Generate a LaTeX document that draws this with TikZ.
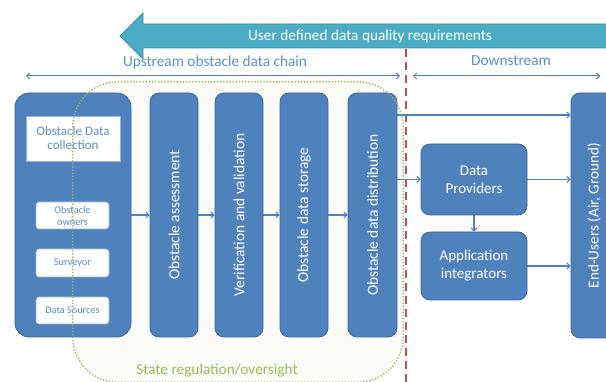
\documentclass[tikz,border=0pt]{standalone}
\usepackage{fontspec}
\setmainfont{Carlito}
\usetikzlibrary{arrows.meta}
\definecolor{boxblue}{HTML}{4F81BD}
\definecolor{boxedge}{HTML}{3A64A0}
\definecolor{teal}{HTML}{4BACC6}
\definecolor{tealedge}{HTML}{3C8FA8}
\definecolor{okgreen}{HTML}{9BBB59}
\definecolor{okred}{HTML}{C0504D}
\definecolor{lbl}{HTML}{5B8FCC}
\tikzset{
  box/.style={draw=boxedge, fill=boxblue, line width=0.8pt, rounded corners=9pt, text=white, align=center, inner sep=2pt},
  whitebox/.style={draw=boxblue!60, fill=white, line width=0.6pt, rounded corners=3pt, text=lbl, align=center, inner sep=1pt},
  arr/.style={draw=boxblue, line width=1.1pt, -{Straight Barb[length=3pt,width=6pt]}},
  dbl/.style={draw=boxblue, line width=1pt, {Straight Barb[length=3pt,width=6pt]}-{Straight Barb[length=3pt,width=6pt]}},
  big/.style={font=\fontsize{15.3}{17}\selectfont},
  vert/.style={font=\fontsize{15.4}{17}\selectfont},
}
\begin{document}
\begin{tikzpicture}[x=1pt,y=-1pt]
\clip (0,0) rectangle (606,382);
\fill[white] (0,0) rectangle (606,382);
% state regulation region (background fill)
\node[fill=okgreen!4, rounded corners=45pt, minimum width=330pt, minimum height=300pt, inner sep=0pt] (region) at (238,232) {};
% big arrow
\draw[fill=teal, draw=tealedge, line width=0.8pt] (120,36) -- (143,13) -- (143,24) -- (610,24) -- (610,48) -- (143,48) -- (143,59) -- cycle;
\node[text=white, big] (req) at (370,36) {User defined data quality requirements};
% labels
\node[text=lbl, big] (up) at (215,62) {Upstream obstacle data chain};
\node[text=lbl, big] (down) at (511,61) {Downstream};
\coordinate (ua) at (26,76);
\coordinate (ub) at (400,76);
\coordinate (da) at (413,76);
\coordinate (db) at (600,76);
\draw[dbl] (ua) -- (ub);
\draw[dbl] (da) -- (db);
% red dashed separator
\coordinate (ra) at (406,49);
\coordinate (rb) at (406,384);
\draw[okred, line width=2.4pt, dash pattern=on 8pt off 5pt] (ra) -- (rb);
% collection box
\node[box, rounded corners=14pt, minimum width=116pt, minimum height=244pt] (coll) at (73,215) {};
\node[whitebox, rounded corners=0pt, minimum width=94pt, minimum height=45pt, font=\fontsize{13}{14}\selectfont] (collt) at (73,138.5) {Obstacle Data\\collection};
\node[whitebox, minimum width=73pt, minimum height=27pt, font=\fontsize{10.3}{12}\selectfont] (own) at (72.5,215.5) {Obstacle\\owners};
\node[whitebox, minimum width=73pt, minimum height=28pt, font=\fontsize{10.3}{12}\selectfont] (surv) at (72.5,263) {Surveyor};
\node[whitebox, minimum width=73pt, minimum height=27pt, font=\fontsize{10.3}{12}\selectfont] (src) at (72.5,310.5) {Data Sources};
% vertical process boxes
\node[box, rotate=90, minimum width=244pt, minimum height=48pt, vert] (assess) at (174,215) {Obstacle assessment};
\node[box, rotate=90, minimum width=244pt, minimum height=48pt, vert] (verif) at (239,215) {Verification and validation};
\node[box, rotate=90, minimum width=244pt, minimum height=48pt, vert] (store) at (304,215) {Obstacle data storage};
\node[box, rotate=90, minimum width=244pt, minimum height=49pt, vert] (dist) at (372.5,215) {Obstacle data distribution};
% downstream boxes
\node[box, minimum width=106pt, minimum height=71pt, font=\fontsize{15}{18}\selectfont] (dp) at (474,179.5) {Data\\Providers};
\node[box, minimum width=106pt, minimum height=68pt, font=\fontsize{15}{18}\selectfont] (app) at (474,266) {Application\\integrators};
\node[box, rotate=90, minimum width=245pt, minimum height=46pt, font=\fontsize{15.2}{17}\selectfont] (eu) at (594,215.5) {End-Users (Air, Ground)};
% connectors
\draw[arr] (coll.east) -- (assess.north);
\draw[arr] (assess.south) -- (verif.north);
\draw[arr] (verif.south) -- (store.north);
\draw[arr] (store.south) -- (dist.north);
\coordinate (toprow) at (0,115);
\draw[arr] (dist.south |- toprow) -- (eu.north |- toprow);
\draw[arr] (dist.south |- dp.west) -- (dp.west);
\draw[arr] (dp.south) -- (app.north);
\draw[arr] (dp.east) -- (eu.north |- dp.east);
\draw[arr] (app.east) -- (eu.north |- app.east);
% dotted outline on top
\draw[okgreen, line width=1.8pt, dash pattern=on 0.1pt off 3pt, line cap=round, rounded corners=45pt] (region.north west) rectangle (region.south east);
\node[text=okgreen, big] (state) at (217,371) {State regulation/oversight};
\end{tikzpicture}
\end{document}
